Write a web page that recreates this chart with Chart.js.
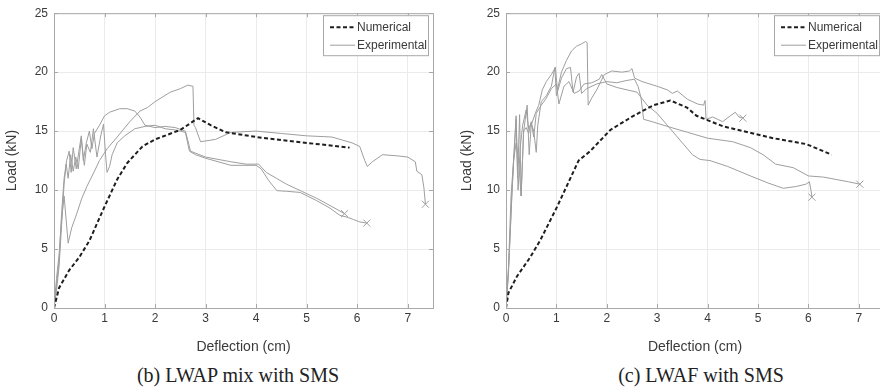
<!DOCTYPE html>
<html>
<head>
<meta charset="utf-8">
<script src="https://cdn.jsdelivr.net/npm/chart.js@4/dist/chart.umd.min.js"></script>
<style>
  html, body { margin: 0; padding: 0; background: #fff; }
  body { width: 880px; height: 387px; overflow: hidden; position: relative; }
  canvas { position: absolute; top: 0; }
  #left-chart { left: 0; }
  #right-chart { left: 440px; }
  .caption {
    position: absolute; top: 364px; width: 440px; text-align: center;
    font: 20px 'Liberation Serif', 'DejaVu Serif', serif; color: #222; line-height: 22px;
  }
</style>
</head>
<body>
<canvas id="left-chart" width="440" height="358"></canvas>
<canvas id="right-chart" width="451" height="358"></canvas>
<div class="caption" style="left:18px">(b) LWAP mix with SMS</div>
<div class="caption" style="left:481px">(c) LWAF with SMS</div>
<script>
(function () {
  // axis ticks
  const xTicks = [0, 1, 2, 3, 4, 5, 6, 7];
  const yTicks = [0, 5, 10, 15, 20, 25];

  // (b) LWAP mix with SMS
  const lwapNumX = [0, 0.1, 0.3, 0.5, 0.7, 1.0, 1.25, 1.45, 1.75, 2.0, 2.5, 2.85, 3.1, 3.4, 4.0, 5.0, 5.85];
  const lwapNumY = [0, 1.7, 3.2, 4.3, 5.7, 8.6, 10.9, 12.3, 13.7, 14.3, 15.1, 16.1, 15.5, 14.9, 14.5, 14.0, 13.6];

  const lwapExp1X = [0, 0.05, 0.1, 0.15, 0.2, 0.28, 0.35, 0.45, 0.55, 0.65, 0.8, 0.9, 1.05, 1.25, 1.5, 1.7, 1.85, 2.0, 2.15, 2.3, 2.5, 2.65, 2.75, 2.77, 2.8, 2.9, 3.2, 3.5, 4.0, 4.5, 5.0, 5.5, 5.9, 6.05, 6.15, 6.2, 6.3, 6.5, 6.8, 7.0, 7.15, 7.18, 7.28, 7.32, 7.35];
  const lwapExp1Y = [0, 2.5, 4.5, 7.5, 9.5, 5.5, 6.8, 8.0, 9.3, 10.3, 11.6, 12.5, 13.5, 14.5, 15.8, 16.7, 17.0, 17.5, 17.9, 18.3, 18.6, 18.9, 18.8, 15.5, 15.3, 14.1, 14.3, 14.9, 15.0, 14.8, 14.6, 14.5, 14.0, 13.7, 12.5, 12.0, 12.4, 13.0, 12.9, 12.8, 12.4, 11.6, 11.3, 10.2, 8.8];

  const lwapExp2X = [0, 0.05, 0.1, 0.15, 0.2, 0.25, 0.3, 0.34, 0.38, 0.44, 0.5, 0.54, 0.58, 0.64, 0.7, 0.75, 0.8, 0.9, 1.0, 1.1, 1.3, 1.45, 1.6, 1.7, 1.8, 2.0, 2.2, 2.4, 2.6, 2.65, 2.7, 3.0, 3.5, 3.8, 4.05, 4.2, 4.4, 4.6, 4.9, 5.2, 5.5, 5.75];
  const lwapExp2Y = [0, 2, 4, 8, 11, 12.5, 13.3, 11.5, 13.6, 11.8, 13.5, 14.6, 12.5, 14.0, 15.0, 13.5, 14.8, 15.5, 16.3, 16.6, 16.9, 16.9, 16.7, 16.2, 15.5, 15.3, 15.4, 15.3, 15.0, 14.2, 13.3, 12.8, 12.4, 12.2, 12.2, 11.5, 11.0, 10.5, 9.9, 9.3, 8.6, 8.0];

  const lwapExp3X = [0, 0.05, 0.1, 0.15, 0.2, 0.24, 0.28, 0.33, 0.38, 0.43, 0.48, 0.54, 0.6, 0.65, 0.72, 0.78, 0.85, 0.92, 0.98, 1.02, 1.05, 1.1, 1.15, 1.25, 1.4, 1.6, 1.8, 2.0, 2.2, 2.4, 2.6, 2.68, 2.8, 3.0, 3.5, 4.0, 4.1, 4.25, 4.41, 4.6, 4.87, 5.2, 5.45, 5.66, 5.8, 5.93, 6.05, 6.19];
  const lwapExp3Y = [0, 1.5, 3.5, 7, 10.5, 12.2, 11.0, 13.0, 11.6, 12.8, 11.8, 14.4, 12.1, 13.9, 13.2, 15.2, 12.8, 14.5, 15.6, 13.0, 11.5, 12.0, 13.0, 14.0, 14.6, 15.2, 15.4, 15.5, 15.2, 15.1, 14.9, 13.3, 13.0, 12.7, 12.1, 12.1, 11.8, 10.8, 9.95, 9.9, 9.8, 9.1, 8.5, 7.85, 7.7, 7.5, 7.3, 7.2];

  // (c) LWAF with SMS
  const lwafNumX = [0, 0.05, 0.22, 0.48, 0.68, 1.01, 1.44, 1.67, 2.07, 2.53, 2.93, 3.26, 3.59, 3.78, 4.31, 5.3, 5.96, 6.46];
  const lwafNumY = [0, 1.3, 2.7, 4.3, 5.75, 8.55, 12.5, 13.3, 15.1, 16.3, 17.2, 17.6, 17.0, 16.3, 15.4, 14.4, 13.9, 13.0];

  const lwafExp1X = [0, 0.04, 0.08, 0.12, 0.16, 0.2, 0.23, 0.27, 0.3, 0.35, 0.42, 0.46, 0.5, 0.58, 0.65, 0.72, 0.8, 0.9, 0.98, 1.02, 1.1, 1.2, 1.3, 1.4, 1.5, 1.58, 1.61, 1.63, 1.7, 1.8, 1.95, 2.1, 2.3, 2.45, 2.5, 2.55, 2.7, 3.0, 3.2, 3.3, 3.4, 3.6, 3.8, 3.92, 3.95, 3.97, 4.1, 4.2, 4.3, 4.45, 4.55, 4.62, 4.7];
  const lwafExp1Y = [0, 2.5, 6, 10, 13, 16, 11, 16.4, 9.5, 15, 17.2, 13, 15.5, 16.5, 17.2, 18.5, 19.2, 19.8, 20.4, 18.5, 20.0, 21.0, 21.8, 22.2, 22.4, 22.6, 22.5, 17.2, 17.8, 18.5, 19.8, 20.1, 20.0, 20.1, 20.3, 19.5, 19.2, 18.8, 18.5, 18.2, 18.4, 17.7, 17.3, 17.2, 17.6, 16.0, 16.2, 16.0, 15.8, 16.3, 16.6, 16.2, 16.1];

  const lwafExp2X = [0, 0.05, 0.1, 0.15, 0.2, 0.24, 0.28, 0.33, 0.4, 0.45, 0.5, 0.55, 0.6, 0.63, 0.7, 0.8, 0.9, 0.97, 1.0, 1.1, 1.2, 1.28, 1.33, 1.4, 1.45, 1.5, 1.6, 1.8, 2.0, 2.2, 2.4, 2.55, 2.62, 2.68, 2.73, 2.9, 3.2, 3.6, 4.0, 4.5, 4.85, 5.1, 5.35, 5.7, 6.0, 6.3, 6.55, 6.8, 7.02];
  const lwafExp2Y = [0, 3, 8, 12.5, 16.3, 10, 13.5, 15.5, 16.8, 15.2, 15.7, 15.0, 13.2, 15.5, 17.5, 18.0, 18.8, 20.4, 18.0, 19.5, 20.3, 20.4, 18.3, 19.6, 19.9, 18.2, 18.6, 19.0, 19.2, 19.1, 19.3, 19.4, 18.8, 17.8, 16.0, 15.8, 15.4, 14.9, 14.4, 14.1, 13.6, 13.0, 12.2, 11.9, 11.2, 11.1, 10.9, 10.7, 10.5];

  const lwafExp3X = [0, 0.05, 0.1, 0.15, 0.2, 0.25, 0.3, 0.35, 0.4, 0.45, 0.5, 0.55, 0.6, 0.7, 0.8, 0.9, 1.0, 1.05, 1.15, 1.25, 1.35, 1.45, 1.55, 1.7, 1.85, 1.9, 2.0, 2.2, 2.4, 2.6, 2.8, 3.0, 3.3, 3.5, 3.7, 3.85, 4.05, 4.4, 4.85, 5.2, 5.5, 5.75, 5.95, 6.02, 6.05, 6.07];
  const lwafExp3Y = [0, 3.5, 9.5, 12.5, 14, 12.5, 9.5, 15, 15.3, 14.8, 15.8, 14.5, 16.5, 17.2, 17.8, 18.6, 19.0, 17.3, 18.8, 19.2, 18.2, 18.4, 19.0, 19.1, 19.4, 19.8, 19.0, 18.7, 18.5, 18.3, 17.2, 16.5, 15.0, 14.0, 13.0, 12.6, 12.5, 12.0, 11.2, 10.6, 10.15, 10.3, 10.5, 10.7, 10.0, 9.4];

  const FONT = "'Liberation Sans', Arial, sans-serif";
  const EXP_COLOR = '#9e9e9e';
  const NUM_COLOR = '#1e1e1e';
  const FRAME_COLOR = '#a8a8a8';
  const GRID_COLOR = '#ebebeb';
  const TEXT_COLOR = '#3a3a3a';

  function zip(xs, ys) {
    return xs.map((x, i) => ({ x, y: ys[i] }));
  }

  function numDataset(xs, ys) {
    return {
      label: 'Numerical',
      data: zip(xs, ys),
      borderColor: NUM_COLOR,
      borderWidth: 2,
      borderDash: [4, 2.5],
      pointRadius: 0,
      order: 0,
    };
  }

  function expDataset(xs, ys, label) {
    return {
      label,
      data: zip(xs, ys),
      borderColor: EXP_COLOR,
      borderWidth: 1,
      pointStyle: 'crossRot',
      pointBorderColor: EXP_COLOR,
      pointBorderWidth: 1,
      pointRadius: ctx => (ctx.dataIndex === ctx.dataset.data.length - 1 ? 5 : 0),
      order: 1,
    };
  }

  // box round the plot plus MATLAB style inward ticks
  const framePlugin = {
    id: 'frame',
    afterDatasetsDraw(chart) {
      const { ctx, chartArea: a, scales } = chart;
      ctx.save();
      ctx.strokeStyle = FRAME_COLOR;
      ctx.lineWidth = 1;
      ctx.strokeRect(a.left + 0.5, a.top + 0.5, a.right - a.left, a.bottom - a.top);
      ctx.beginPath();
      xTicks.forEach(v => {
        const px = Math.round(scales.x.getPixelForValue(v)) + 0.5;
        ctx.moveTo(px, a.bottom); ctx.lineTo(px, a.bottom - 4);
        ctx.moveTo(px, a.top); ctx.lineTo(px, a.top + 4);
      });
      yTicks.forEach(v => {
        const py = Math.round(scales.y.getPixelForValue(v)) + 0.5;
        ctx.moveTo(a.left, py); ctx.lineTo(a.left + 4, py);
        ctx.moveTo(a.right, py); ctx.lineTo(a.right - 4, py);
      });
      ctx.stroke();
      ctx.restore();
    },
  };

  // legend in the upper right corner, inside the axes
  const boxLegendPlugin = {
    id: 'boxLegend',
    afterDraw(chart) {
      const { ctx, chartArea: a } = chart;
      const entries = chart.data.datasets.filter(d => !d.hideInLegend);
      const w = 105, h = 40;
      const left = a.right - 5 - w, top = a.top + 2;
      ctx.save();
      ctx.fillStyle = '#fff';
      ctx.fillRect(left, top, w, h);
      ctx.strokeStyle = FRAME_COLOR;
      ctx.lineWidth = 1;
      ctx.strokeRect(left + 0.5, top + 0.5, w, h);
      ctx.font = '12px ' + FONT;
      ctx.textBaseline = 'middle';
      entries.forEach((d, i) => {
        const y = top + 12 + i * 18;
        ctx.beginPath();
        ctx.strokeStyle = d.borderColor;
        ctx.lineWidth = d.borderWidth;
        ctx.setLineDash(d.borderDash || []);
        ctx.moveTo(left + 7, y);
        ctx.lineTo(left + 32, y);
        ctx.stroke();
        ctx.setLineDash([]);
        ctx.fillStyle = TEXT_COLOR;
        ctx.fillText(d.label, left + 34, y + 0.5);
      });
      ctx.restore();
    },
  };

  function makePanel(id, datasets, padLeft, yWidth) {
    const canvas = document.getElementById(id);
    return new Chart(canvas, {
      type: 'line',
      data: { datasets },
      plugins: [framePlugin, boxLegendPlugin],
      options: {
        responsive: false,
        animation: false,
        layout: { padding: { top: 11, right: 7, left: padLeft, bottom: 0 } },
        plugins: { legend: { display: false }, tooltip: { enabled: false } },
        elements: { line: { tension: 0 } },
        scales: {
          x: {
            type: 'linear',
            min: 0,
            max: 7.5,
            afterBuildTicks: s => { s.ticks = xTicks.map(v => ({ value: v })); },
            afterFit: s => { s.height = 50; },
            border: { display: false },
            grid: { color: GRID_COLOR, drawTicks: false },
            ticks: { padding: 3, color: TEXT_COLOR, font: { family: FONT, size: 12 }, maxRotation: 0 },
            title: { display: true, text: 'Deflection (cm)', color: TEXT_COLOR, font: { family: FONT, size: 14 }, padding: { top: 0, bottom: 2 } },
          },
          y: {
            min: 0,
            max: 25,
            afterBuildTicks: s => { s.ticks = yTicks.map(v => ({ value: v })); },
            afterFit: s => { s.width = yWidth; },
            border: { display: false },
            grid: { color: GRID_COLOR, drawTicks: false },
            ticks: { padding: 6, color: TEXT_COLOR, font: { family: FONT, size: 12 } },
            title: { display: true, text: 'Load (kN)', color: TEXT_COLOR, font: { family: FONT, size: 14 }, padding: { top: 4, bottom: 0 } },
          },
        },
      },
    });
  }

  function hidden(ds) { ds.hideInLegend = true; return ds; }

  makePanel('left-chart', [
    numDataset(lwapNumX, lwapNumY),
    expDataset(lwapExp1X, lwapExp1Y, 'Experimental'),
    hidden(expDataset(lwapExp2X, lwapExp2Y, 'Experimental 2')),
    hidden(expDataset(lwapExp3X, lwapExp3Y, 'Experimental 3')),
  ], 0, 54);

  makePanel('right-chart', [
    numDataset(lwafNumX, lwafNumY),
    expDataset(lwafExp1X, lwafExp1Y, 'Experimental'),
    hidden(expDataset(lwafExp2X, lwafExp2Y, 'Experimental 2')),
    hidden(expDataset(lwafExp3X, lwafExp3Y, 'Experimental 3')),
  ], 15, 51);
})();
</script>
</body>
</html>
